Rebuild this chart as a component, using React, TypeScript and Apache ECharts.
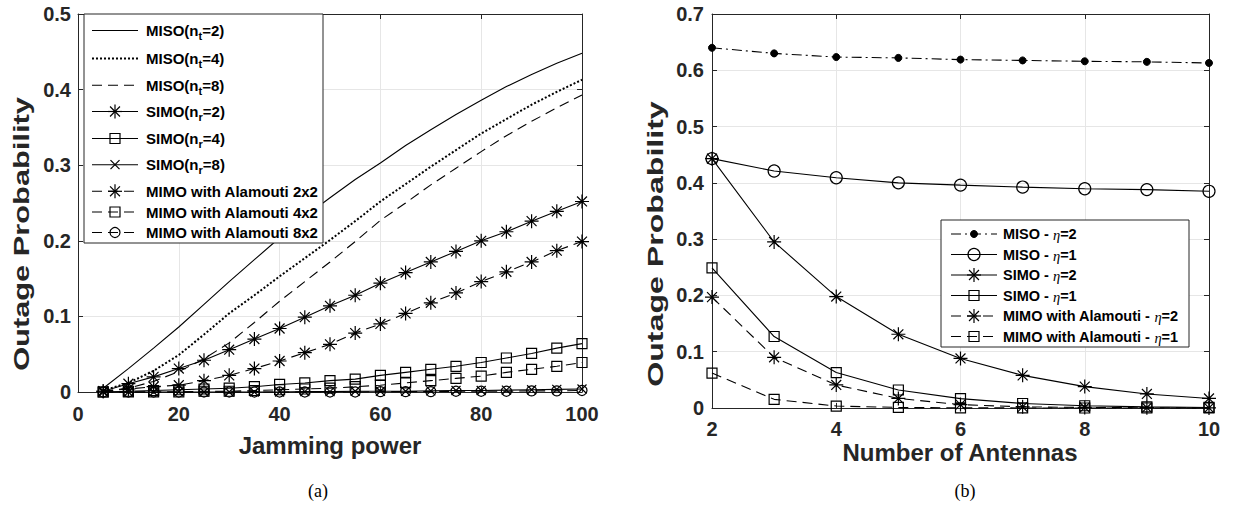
import React, { useEffect, useRef } from 'react';
import * as echarts from 'echarts';

// ---------- DATA ----------
const jammingPower = [5, 10, 15, 20, 25, 30, 35, 40, 45, 50, 55, 60, 65, 70, 75, 80, 85, 90, 95, 100];
const misoNt2 = [0.005, 0.031, 0.058, 0.086, 0.116, 0.146, 0.175, 0.204, 0.232, 0.257, 0.281, 0.303, 0.326, 0.347, 0.367, 0.386, 0.404, 0.42, 0.435, 0.448];
const misoNt4 = [0.002, 0.012, 0.028, 0.049, 0.076, 0.104, 0.128, 0.153, 0.177, 0.201, 0.226, 0.252, 0.275, 0.298, 0.32, 0.342, 0.361, 0.38, 0.397, 0.413];
const misoNt8 = [0.001, 0.005, 0.014, 0.027, 0.044, 0.065, 0.092, 0.12, 0.146, 0.172, 0.199, 0.227, 0.25, 0.274, 0.296, 0.318, 0.339, 0.358, 0.376, 0.393];
const simoNr2 = [0.001, 0.011, 0.02, 0.031, 0.042, 0.056, 0.07, 0.084, 0.099, 0.114, 0.128, 0.144, 0.158, 0.172, 0.186, 0.2, 0.212, 0.226, 0.239, 0.252];
const simoNr4 = [0, 0.001, 0.002, 0.003, 0.004, 0.005, 0.007, 0.01, 0.012, 0.015, 0.017, 0.022, 0.026, 0.03, 0.034, 0.039, 0.045, 0.051, 0.058, 0.064];
const simoNr8 = [0, 0, 0, 0, 0, 0, 0, 0, 0.0005, 0.0005, 0.001, 0.001, 0.001, 0.0015, 0.002, 0.002, 0.0025, 0.003, 0.0035, 0.004];
const mimo2x2 = [0.001, 0.004, 0.007, 0.009, 0.015, 0.022, 0.031, 0.041, 0.052, 0.063, 0.078, 0.09, 0.104, 0.118, 0.131, 0.146, 0.159, 0.172, 0.187, 0.199];
const mimo4x2 = [0, 0, 0, 0, 0.001, 0.001, 0.002, 0.003, 0.004, 0.005, 0.007, 0.009, 0.012, 0.015, 0.018, 0.021, 0.026, 0.03, 0.034, 0.039];
const mimo8x2 = [0, 0, 0, 0, 0, 0, 0, 0, 0, 0, 0, 0.0005, 0.0005, 0.0005, 0.001, 0.001, 0.001, 0.0015, 0.0015, 0.002];

const antennas = [2, 3, 4, 5, 6, 7, 8, 9, 10];
const misoEta2 = [0.64, 0.63, 0.6235, 0.622, 0.619, 0.6175, 0.616, 0.615, 0.613];
const misoEta1 = [0.443, 0.421, 0.409, 0.4, 0.396, 0.3925, 0.3895, 0.388, 0.385];
const simoEta2 = [0.443, 0.295, 0.198, 0.131, 0.088, 0.058, 0.038, 0.025, 0.017];
const simoEta1 = [0.249, 0.127, 0.063, 0.032, 0.0166, 0.008, 0.004, 0.002, 0.001];
const mimoEta2 = [0.197, 0.09, 0.041, 0.017, 0.006, 0.002, 0.001, 0.0005, 0.0002];
const mimoEta1 = [0.062, 0.0154, 0.0035, 0.001, 0.0003, 0.0001, 0, 0, 0];

const xTitleA = 'Jamming power';
const xTitleB = 'Number of Antennas';
const yTitle = 'Outage Probability';

// ---------- STYLE ----------
const SANS = '"Liberation Sans", Arial, Helvetica, sans-serif';
const SERIF = '"Liberation Serif", "Times New Roman", serif';
const AXIS_COLOR = '#262626';
const GRID_COLOR = '#e6e6e6';
const AST = 'path://M5,0L5,10M0,5L10,5M1.46,1.46L8.54,8.54M1.46,8.54L8.54,1.46';
const XMK = 'path://M0,0L10,10M0,10L10,0';
const DASH = [10, 6];
const DOT = [2, 2];
const DOT_W = 2;
const DASHDOT = [10, 4, 2, 4];
const LW = 1.1;
const MW = 1.2;

type MarkKind = 'none' | 'ast' | 'rect' | 'circle' | 'x' | 'dot';

const symbolOf = (k: MarkKind) =>
  k === 'ast' ? AST : k === 'x' ? XMK : k === 'rect' ? 'rect' : k === 'circle' || k === 'dot' ? 'circle' : 'none';

function measure(text: string, font: string) {
  const ctx = document.createElement('canvas').getContext('2d')!;
  ctx.font = font;
  return ctx.measureText(text).width;
}

function textEl(text: string, x: number, y: number, font: string, fill: string, align = 'left', extra: any = {}) {
  return {
    type: 'text',
    x,
    y,
    silent: true,
    z: 102,
    ...extra,
    style: {
      text,
      font,
      fill,
      align,
      textAlign: align,
      verticalAlign: 'middle',
      textVerticalAlign: 'middle',
    },
  };
}

function markerEls(kind: MarkKind, cx: number, cy: number, s: number) {
  const st = { stroke: '#000', lineWidth: MW, fill: 'none' };
  const ln = (a: number, b: number, c: number, d: number) => ({
    type: 'line',
    silent: true,
    z: 101,
    shape: { x1: cx + a, y1: cy + b, x2: cx + c, y2: cy + d },
    style: st,
  });
  const h = s / 2;
  if (kind === 'ast') {
    const d = h * 0.708;
    return [ln(0, -h, 0, h), ln(-h, 0, h, 0), ln(-d, -d, d, d), ln(-d, d, d, -d)];
  }
  if (kind === 'x') return [ln(-h, -h, h, h), ln(-h, h, h, -h)];
  if (kind === 'rect')
    return [{ type: 'rect', silent: true, z: 101, shape: { x: cx - h, y: cy - h, width: s, height: s }, style: st }];
  if (kind === 'circle') return [{ type: 'circle', silent: true, z: 101, shape: { cx, cy, r: h }, style: st }];
  if (kind === 'dot')
    return [{ type: 'circle', silent: true, z: 101, shape: { cx, cy, r: h }, style: { fill: '#000', stroke: '#000', lineWidth: 1 } }];
  return [];
}

type Piece = { t: string; k: 'b' | 's' | 'eta' };

function labelEls(x: number, y: number, pieces: Piece[], size: number) {
  const out: any[] = [];
  let cx = x;
  for (const p of pieces) {
    let font = `bold ${size}px ${SANS}`;
    let dy = 0;
    if (p.k === 's') {
      font = `bold ${Math.round(size * 0.73)}px ${SANS}`;
      dy = size * 0.36;
    } else if (p.k === 'eta') {
      font = `italic ${size}px ${SERIF}`;
      dy = 1;
    }
    out.push(textEl(p.t, cx, y + dy, font, '#000'));
    cx += measure(p.t, font);
  }
  return out;
}

function legendRow(
  y: number,
  x1: number,
  x2: number,
  textX: number,
  dash: any,
  lw: number,
  mark: MarkKind,
  msize: number,
  pieces: Piece[],
  fsize: number
) {
  const els: any[] = [
    {
      type: 'line',
      silent: true,
      z: 101,
      shape: { x1, y1: y, x2, y2: y },
      style: { stroke: '#000', lineWidth: lw, lineDash: dash === 'solid' ? null : dash },
    },
  ];
  els.push(...markerEls(mark, (x1 + x2) / 2, y, msize));
  els.push(...labelEls(textX, y, pieces, fsize));
  return els;
}

function lineSeries(
  name: string,
  xs: number[],
  ys: number[],
  axis: number,
  dash: any,
  lw: number,
  mark: MarkKind,
  msize: number
) {
  return {
    type: 'line',
    name,
    xAxisIndex: axis,
    yAxisIndex: axis,
    data: xs.map((x, i) => [x, ys[i]]),
    symbol: symbolOf(mark),
    symbolSize: msize,
    showSymbol: mark !== 'none',
    silent: true,
    clip: false,
    lineStyle: { color: '#000', width: lw, type: dash },
    itemStyle:
      mark === 'dot'
        ? { color: '#000', borderColor: '#000', borderWidth: 1 }
        : { color: 'rgba(0,0,0,0)', borderColor: '#000', borderWidth: MW },
    emphasis: { disabled: true },
    z: 3,
  };
}

function axisPair(
  grid: number,
  min: number,
  max: number,
  interval: number,
  isX: boolean,
  fmt: (v: number) => string,
  margin: number
) {
  const base = {
    type: 'value',
    gridIndex: grid,
    min,
    max,
    interval,
    axisLine: { show: true, onZero: false, lineStyle: { color: AXIS_COLOR, width: 1 } },
    axisTick: { show: true, inside: true, length: 5, lineStyle: { color: AXIS_COLOR, width: 1 } },
  };
  const main = {
    ...base,
    position: isX ? 'bottom' : 'left',
    axisLabel: {
      show: true,
      formatter: fmt,
      color: AXIS_COLOR,
      fontFamily: SANS,
      fontWeight: 'bold',
      fontSize: 20,
      margin,
    },
    splitLine: { show: true, lineStyle: { color: GRID_COLOR, width: 1 } },
  };
  const other = {
    ...base,
    position: isX ? 'top' : 'right',
    axisLabel: { show: false },
    splitLine: { show: false },
  };
  return [main, other];
}

export default function App() {
  const ref = useRef<HTMLDivElement>(null);

  useEffect(() => {
    if (!ref.current) return;
    const chart = echarts.init(ref.current, null, { renderer: 'svg' });

    const yFmt = (v: number) => (v === 0 ? '0' : (Math.round(v * 10) / 10).toFixed(1));
    const xFmt = (v: number) => String(Math.round(v));

    const xA = axisPair(0, 0, 100, 20, true, xFmt, 12);
    const yA = axisPair(0, 0, 0.5, 0.1, false, yFmt, 7);
    const xB = axisPair(1, 2, 10, 2, true, xFmt, 11);
    const yB = axisPair(1, 0, 0.7, 0.1, false, yFmt, 8);

    // xAxis indices: 0 = A bottom, 1 = B bottom, 2 = A top, 3 = B top
    const xAxis = [xA[0], xB[0], xA[1], xB[1]];
    const yAxis = [yA[0], yB[0], yA[1], yB[1]];

    const series = [
      lineSeries('MISO(n_t=2)', jammingPower, misoNt2, 0, 'solid', LW, 'none', 0),
      lineSeries('MISO(n_t=4)', jammingPower, misoNt4, 0, DOT, DOT_W, 'none', 0),
      lineSeries('MISO(n_t=8)', jammingPower, misoNt8, 0, DASH, LW, 'none', 0),
      lineSeries('SIMO(n_r=2)', jammingPower, simoNr2, 0, 'solid', LW, 'ast', 14),
      lineSeries('SIMO(n_r=4)', jammingPower, simoNr4, 0, 'solid', LW, 'rect', 10),
      lineSeries('SIMO(n_r=8)', jammingPower, simoNr8, 0, 'solid', LW, 'x', 9),
      lineSeries('MIMO with Alamouti 2x2', jammingPower, mimo2x2, 0, DASH, LW, 'ast', 14),
      lineSeries('MIMO with Alamouti 4x2', jammingPower, mimo4x2, 0, DASH, LW, 'rect', 10),
      lineSeries('MIMO with Alamouti 8x2', jammingPower, mimo8x2, 0, DASH, LW, 'circle', 10),
      lineSeries('MISO - η=2', antennas, misoEta2, 1, DASHDOT, LW, 'dot', 7),
      lineSeries('MISO - η=1', antennas, misoEta1, 1, 'solid', LW, 'circle', 12),
      lineSeries('SIMO - η=2', antennas, simoEta2, 1, 'solid', LW, 'ast', 14),
      lineSeries('SIMO - η=1', antennas, simoEta1, 1, 'solid', LW, 'rect', 10),
      lineSeries('MIMO with Alamouti - η=2', antennas, mimoEta2, 1, DASH, LW, 'ast', 14),
      lineSeries('MIMO with Alamouti - η=1', antennas, mimoEta1, 1, DASH, LW, 'rect', 10),
    ];

    // ---------- legends (drawn) ----------
    const LF = 15;
    const leftRows: [number, any, number, MarkKind, number, Piece[]][] = [
      [30.5, 'solid', LW, 'none', 0, [{ t: 'MISO(n', k: 'b' }, { t: 't', k: 's' }, { t: '=2)', k: 'b' }]],
      [58.5, DOT, DOT_W, 'none', 0, [{ t: 'MISO(n', k: 'b' }, { t: 't', k: 's' }, { t: '=4)', k: 'b' }]],
      [85.3, DASH, LW, 'none', 0, [{ t: 'MISO(n', k: 'b' }, { t: 't', k: 's' }, { t: '=8)', k: 'b' }]],
      [111.5, 'solid', LW, 'ast', 14, [{ t: 'SIMO(n', k: 'b' }, { t: 'r', k: 's' }, { t: '=2)', k: 'b' }]],
      [138.5, 'solid', LW, 'rect', 10, [{ t: 'SIMO(n', k: 'b' }, { t: 'r', k: 's' }, { t: '=4)', k: 'b' }]],
      [164.7, 'solid', LW, 'x', 9, [{ t: 'SIMO(n', k: 'b' }, { t: 'r', k: 's' }, { t: '=8)', k: 'b' }]],
      [191.3, DASH, LW, 'ast', 14, [{ t: 'MIMO with Alamouti 2x2', k: 'b' }]],
      [212, DASH, LW, 'rect', 10, [{ t: 'MIMO with Alamouti 4x2', k: 'b' }]],
      [232.5, DASH, LW, 'circle', 10, [{ t: 'MIMO with Alamouti 8x2', k: 'b' }]],
    ];
    const RF = 14.5;
    const rightRows: [number, any, number, MarkKind, number, Piece[]][] = [
      [234, DASHDOT, LW, 'dot', 7, [{ t: 'MISO - ', k: 'b' }, { t: 'η', k: 'eta' }, { t: '=2', k: 'b' }]],
      [254.5, 'solid', LW, 'circle', 12, [{ t: 'MISO - ', k: 'b' }, { t: 'η', k: 'eta' }, { t: '=1', k: 'b' }]],
      [275, 'solid', LW, 'ast', 14, [{ t: 'SIMO - ', k: 'b' }, { t: 'η', k: 'eta' }, { t: '=2', k: 'b' }]],
      [295.5, 'solid', LW, 'rect', 10, [{ t: 'SIMO - ', k: 'b' }, { t: 'η', k: 'eta' }, { t: '=1', k: 'b' }]],
      [316, DASH, LW, 'ast', 14, [{ t: 'MIMO with Alamouti - ', k: 'b' }, { t: 'η', k: 'eta' }, { t: '=2', k: 'b' }]],
      [336.5, DASH, LW, 'rect', 10, [{ t: 'MIMO with Alamouti - ', k: 'b' }, { t: 'η', k: 'eta' }, { t: '=1', k: 'b' }]],
    ];

    const graphics: any[] = [];
    graphics.push({
      type: 'rect',
      silent: true,
      z: 100,
      shape: { x: 84, y: 14, width: 239, height: 229 },
      style: { fill: '#fff', stroke: AXIS_COLOR, lineWidth: 1 },
    });
    for (const r of leftRows) graphics.push(...legendRow(r[0], 92, 138, 146, r[1], r[2], r[3], r[4], r[5], LF));

    graphics.push({
      type: 'rect',
      silent: true,
      z: 100,
      shape: { x: 941, y: 220, width: 248, height: 127 },
      style: { fill: '#fff', stroke: AXIS_COLOR, lineWidth: 1 },
    });
    for (const r of rightRows) graphics.push(...legendRow(r[0], 951, 997, 1003, r[1], r[2], r[3], r[4], r[5], RF));

    // axis titles
    graphics.push(textEl(xTitleA, 330, 445, `bold 24px ${SANS}`, AXIS_COLOR, 'center'));
    graphics.push(textEl(xTitleB, 960, 452, `bold 24px ${SANS}`, AXIS_COLOR, 'center'));
    graphics.push(textEl(yTitle, 22, 234, `bold 22px ${SANS}`, AXIS_COLOR, 'center', { rotation: Math.PI / 2, scaleX: 1.4 }));
    graphics.push(textEl(yTitle, 655, 244, `bold 22px ${SANS}`, AXIS_COLOR, 'center', { rotation: Math.PI / 2, scaleX: 1.46 }));
    // captions
    graphics.push(textEl('(a)', 318, 491, `18px ${SERIF}`, '#000', 'center'));
    graphics.push(textEl('(b)', 965, 491, `18px ${SERIF}`, '#000', 'center'));

    chart.setOption({
      animation: false,
      backgroundColor: '#fff',
      grid: [
        { left: 78, top: 14, width: 504, height: 378 },
        { left: 712, top: 14, width: 497, height: 394 },
      ],
      xAxis,
      yAxis,
      series,
      graphic: { elements: graphics },
    });

    return () => chart.dispose();
  }, []);

  return (
    <div
      ref={ref}
      style={{ position: 'absolute', left: 0, top: 0, width: 1233, height: 506, background: '#fff' }}
    />
  );
}
